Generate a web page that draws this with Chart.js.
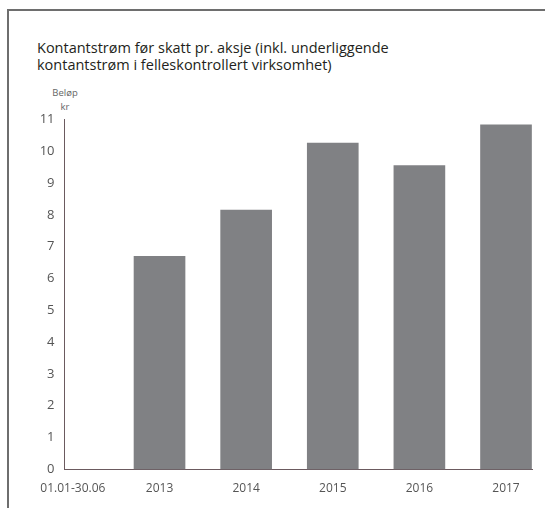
<!DOCTYPE html>
<html>
<head>
<meta charset="utf-8">
<script src="https://cdn.jsdelivr.net/npm/chart.js@4"></script>
<style>
  html, body { margin: 0; padding: 0; background: #fff; }
  body { width: 545px; height: 508px; position: relative; overflow: hidden; font-family: "Open Sans", sans-serif; }
  #frame { position: absolute; left: 7px; top: 9px; width: 540px; height: 510px; border-top: 2px solid #6e6e6e; border-left: 2px solid #6e6e6e; }
  #title { position: absolute; left: 37px; top: 40px; font-size: 14.5px; line-height: 16.5px; color: #231f20; white-space: nowrap; }
  #unit { position: absolute; left: 35px; width: 60px; top: 86px; text-align: center; font-size: 9.5px; line-height: 14px; color: #666; }
  #wrap { position: absolute; left: 0; top: 0; width: 545px; height: 508px; }
</style>
</head>
<body>
<div id="frame"></div>
<div id="title">Kontantstrøm før skatt pr. aksje (inkl. underliggende<br>kontantstrøm i felleskontrollert virksomhet)</div>
<div id="unit">Beløp<br>kr</div>
<div id="wrap"><canvas id="c" width="545" height="508"></canvas></div>
<script>
const categories = ['01.01-30.06', '2013', '2014', '2015', '2016', '2017'];
const values = [null, 6.7, 8.15, 10.26, 9.55, 10.83];
const yTicks = [0, 1, 2, 3, 4, 5, 6, 7, 8, 9, 10, 11];

const axisColor = '#6b5a5f';
const tickColor = '#555555';

new Chart(document.getElementById('c'), {
  type: 'bar',
  data: {
    datasets: [{
      data: values.map((v, i) => ({ x: i, y: v })),
      backgroundColor: '#808184',
      borderWidth: 0,
      barThickness: 51
    }]
  },
  options: {
    responsive: false,
    animation: false,
    events: [],
    layout: { padding: { top: 119.5, left: 20, right: 13, bottom: 3.7 } },
    plugins: { legend: { display: false }, tooltip: { enabled: false }, title: { display: false } },
    scales: {
      x: {
        type: 'linear',
        offset: false,
        min: -0.097,
        max: 5.3,
        afterBuildTicks: (s) => { s.ticks = categories.map((c, i) => ({ value: i })); },
        afterFit: (s) => { s.height = 35; },
        grid: { display: false, drawTicks: false, offset: false },
        border: { display: true, color: axisColor, width: 1 },
        ticks: {
          autoSkip: false,
          maxRotation: 0,
          padding: 12,
          color: tickColor,
          font: { family: 'Open Sans', size: 12 },
          callback: (v) => categories[v]
        }
      },
      y: {
        min: 0,
        max: 11,
        afterBuildTicks: (s) => { s.ticks = yTicks.map(v => ({ value: v })); },
        afterFit: (s) => { s.width = 44.5; },
        grid: { display: false, drawTicks: false },
        border: { display: true, color: axisColor, width: 1 },
        ticks: {
          padding: 10,
          color: tickColor,
          font: { family: 'Open Sans', size: 13 },
          callback: (v) => String(v)
        }
      }
    }
  }
});
</script>
</body>
</html>
